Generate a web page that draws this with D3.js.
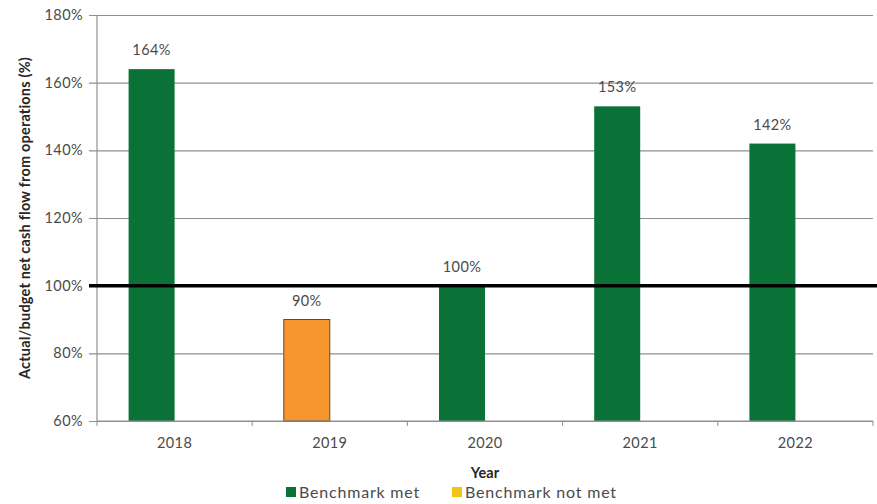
<!DOCTYPE html>
<html>
<head>
<meta charset="utf-8">
<script src="https://cdn.jsdelivr.net/npm/d3@7"></script>
<style>
  body { margin: 0; background: #fff; }
  svg text { font-family: Lato, "Open Sans", sans-serif; }
</style>
</head>
<body>
<div id="chart"></div>
<script>
// data
var years = ["2018", "2019", "2020", "2021", "2022"];
var values = [164, 90, 100, 153, 142];
var met = [true, false, true, true, true];
var yTicks = [60, 80, 100, 120, 140, 160, 180];
var benchmark = 100;
var legendLabels = ["Benchmark met", "Benchmark not met"];

var W = 877, H = 504;
var margin = {top: 15, right: 4, bottom: 83, left: 97},
    width = 873 - margin.left,
    height = 421 - margin.top;

var green = "#0a7236", orange = "#f7952f", yellow = "#f2c418";
var textCol = "#4a4a4a";

var svg = d3.select("#chart").append("svg")
    .attr("width", W)
    .attr("height", H);

var g = svg.append("g")
    .attr("transform", "translate(" + margin.left + "," + margin.top + ")");

var x = d3.scaleBand().domain(years).range([0, width]);
var y = d3.scaleLinear().domain([60, 180]).range([height, 0]);
var barW = 46;

// gridlines (also draw the left tick marks)
g.append("g")
    .attr("class", "grid")
    .call(d3.axisLeft(y).tickValues(yTicks).tickSize(-width - 8).tickFormat(""))
    .attr("transform", "translate(-8,0)")
    .call(function (s) {
        s.select(".domain").remove();
        s.selectAll("line").attr("stroke", "#8f8f8f").attr("stroke-width", 1.2);
    });

// y tick labels
g.append("g")
    .selectAll("text")
    .data(yTicks)
    .enter()
    .append("text")
    .attr("x", -14)
    .attr("y", function (d) { return y(d); })
    .attr("dy", "0.35em")
    .attr("text-anchor", "end")
    .style("font-size", "14.5px")
    .style("letter-spacing", "0.4px")
    .style("fill", textCol)
    .text(function (d) { return d + "%"; });

// left axis line
g.append("line")
    .attr("x1", 0).attr("x2", 0)
    .attr("y1", 0).attr("y2", height)
    .attr("stroke", "#8f8f8f")
    .attr("stroke-width", 1.2);

// bars
g.append("g")
    .selectAll("rect")
    .data(values)
    .enter()
    .append("rect")
    .attr("x", function (d, i) { return x(years[i]) + x.bandwidth() / 2 - barW; })
    .attr("width", barW)
    .attr("y", function (d) { return y(d); })
    .attr("height", function (d) { return height - y(d); })
    .attr("fill", function (d, i) { return met[i] ? green : orange; })
    .attr("stroke", function (d, i) { return met[i] ? "none" : "#6b4a1e"; })
    .attr("stroke-width", 1);

// value labels
g.append("g")
    .selectAll("text")
    .data(values)
    .enter()
    .append("text")
    .attr("x", function (d, i) { return x(years[i]) + x.bandwidth() / 2 - barW / 2; })
    .attr("y", function (d) { return y(d) - 14; })
    .attr("text-anchor", "middle")
    .style("font-size", "14.5px")
    .style("letter-spacing", "0.4px")
    .style("fill", textCol)
    .text(function (d) { return d + "%"; });

// x axis
var xAxis = g.append("g")
    .attr("transform", "translate(0," + height + ")");
xAxis.append("line")
    .attr("x1", 0).attr("x2", width)
    .attr("stroke", "#8f8f8f")
    .attr("stroke-width", 1.2);
xAxis.selectAll(".tk")
    .data(d3.range(years.length + 1))
    .enter()
    .append("line")
    .attr("x1", function (i) { return i * x.step(); })
    .attr("x2", function (i) { return i * x.step(); })
    .attr("y1", 0).attr("y2", 5)
    .attr("stroke", "#8f8f8f");
xAxis.selectAll(".lbl")
    .data(years)
    .enter()
    .append("text")
    .attr("x", function (d) { return x(d) + x.bandwidth() / 2; })
    .attr("y", 27)
    .attr("text-anchor", "middle")
    .style("font-size", "14.5px")
    .style("letter-spacing", "0.4px")
    .style("fill", textCol)
    .text(function (d) { return d; });

// benchmark line
g.append("line")
    .attr("x1", -8).attr("x2", W - margin.left)
    .attr("y1", y(benchmark)).attr("y2", y(benchmark))
    .attr("stroke", "#000")
    .attr("stroke-width", 3.5);

// axis titles
svg.append("text")
    .attr("transform", "translate(" + 30 + "," + (margin.top + height / 2) + ") rotate(-90)")
    .attr("text-anchor", "middle")
    .style("font-size", "14.5px")
    .style("font-weight", "bold")
    .style("letter-spacing", "0.2px")
    .style("fill", "#262626")
    .text("Actual/budget net cash flow from operations (%)");

svg.append("text")
    .attr("x", margin.left + width / 2)
    .attr("y", 478)
    .attr("text-anchor", "middle")
    .style("font-size", "14.5px")
    .style("font-weight", "bold")
    .style("fill", "#262626")
    .text("Year");

// legend
var legX = [286, 452];
var legColors = [green, yellow];
var leg = svg.append("g");
legendLabels.forEach(function (t, i) {
    leg.append("rect")
        .attr("x", legX[i]).attr("y", 487)
        .attr("width", 10).attr("height", 10)
        .attr("fill", legColors[i]);
    leg.append("text")
        .attr("x", legX[i] + 13).attr("y", 497.5)
        .style("font-size", "16px")
        .style("letter-spacing", "0.8px")
        .style("fill", textCol)
        .text(t);
});
</script>
</body>
</html>
